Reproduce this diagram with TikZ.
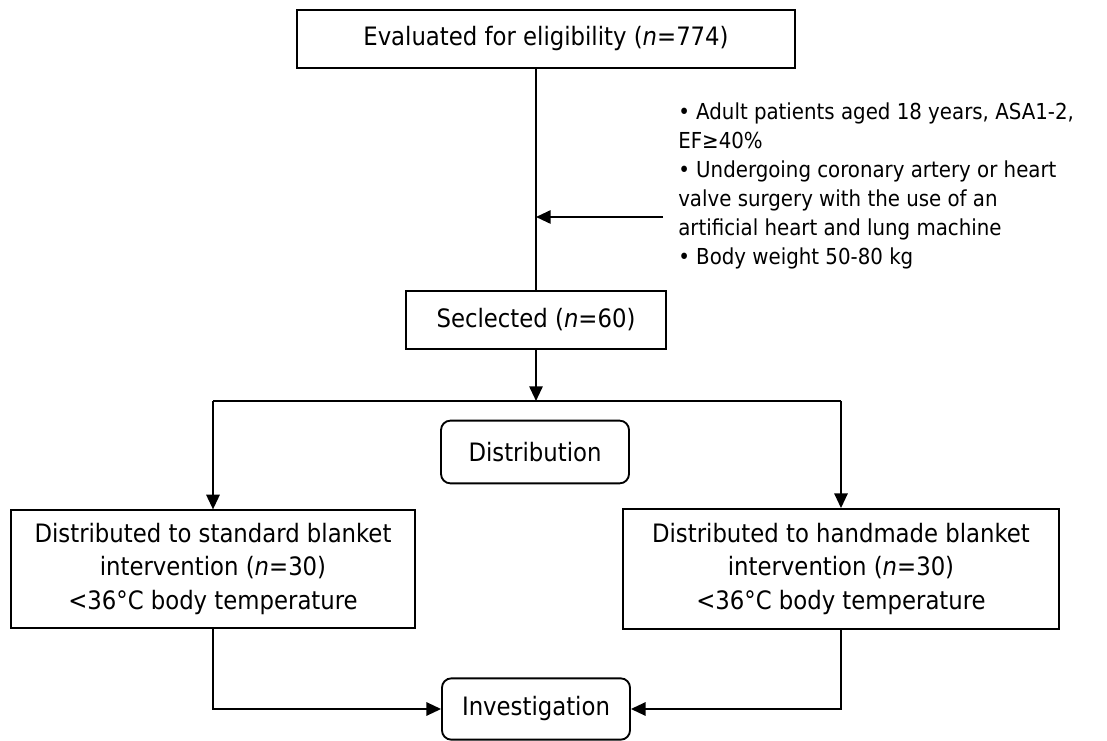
\documentclass[tikz,border=0pt]{standalone}
\usepackage{fontspec}
\setmainfont{DejaVu Sans Condensed}
\usepackage{tikz}
\usetikzlibrary{arrows.meta, positioning}

\begin{document}
\begin{tikzpicture}[
  x=0.75pt, y=-0.75pt,
  font=\fontsize{16.5}{21.75}\selectfont,
  block/.style={rectangle, draw, line width=1.4pt, align=center, inner sep=0pt,
    font=\fontsize{19}{25}\selectfont},
  rblock/.style={block, rounded corners=7pt},
  arrow/.style={-{Triangle[length=11pt, width=10pt]}, line width=1.4pt},
  line/.style={line width=1.4pt}
]
  \useasboundingbox (0,0) rectangle (1107,741);

  \node[block, minimum width=373pt, minimum height=43pt] (eval) at (546,39)
    {Evaluated for eligibility (\textit{n}=774)};
  \node[block, minimum width=195pt, minimum height=43pt] (sel) at (536,320)
    {Seclected (\textit{n}=60)};
  \node[anchor=north west, align=left, inner xsep=11.25pt, inner ysep=0pt] (crit) at (663,103)
    {• Adult patients aged 18 years, ASA1-2,\\
     EF≥40\%\\
     • Undergoing coronary artery or heart\\
     valve surgery with the use of an\\
     artificial heart and lung machine\\
     • Body weight 50-80 kg};
  \coordinate (mid) at (536,217);
  \coordinate (split) at (536,401);

  \node[rblock, minimum width=141pt, minimum height=47pt] (dist) at (535,452) {Distribution};
  \node[block, minimum width=303pt, minimum height=88pt] (left) at (213,569)
    {Distributed to standard blanket\\ intervention (\textit{n}=30)\\ <36°C body temperature};
  \node[block, minimum width=327pt, minimum height=90pt] (right) at (841,569)
    {Distributed to handmade blanket\\ intervention (\textit{n}=30)\\ <36°C body temperature};
  \node[rblock, minimum width=141pt, minimum height=46pt] (inv) at (536,709) {Investigation};

  \draw[line] (sel.north |- eval.south) -- (sel.north);
  \draw[arrow] (crit.west |- mid) -- (mid);
  \draw[arrow] (sel.south) -- (split);
  \draw[line] (left.north |- split) -- (right.north |- split);
  \draw[arrow] (left.north |- split) -- (left.north);
  \draw[arrow] (right.north |- split) -- (right.north);
  \draw[arrow] (left.south) |- (inv.west);
  \draw[arrow] (right.south) |- (inv.east);
\end{tikzpicture}
\end{document}
